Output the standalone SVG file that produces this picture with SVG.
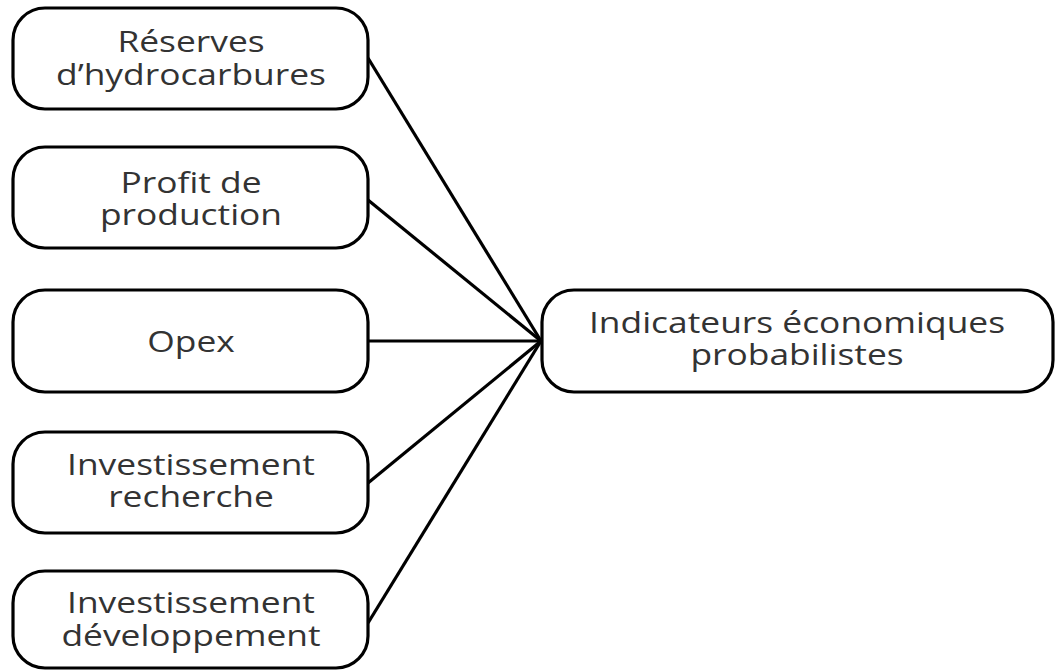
<svg xmlns="http://www.w3.org/2000/svg" width="1057" height="671" viewBox="0 0 1057 671">
<style>
.box{fill:#fff;stroke:#000;stroke-width:3.2}
.t{font-family:"Open Sans","Noto Sans",sans-serif;font-size:29px;fill:#333;text-anchor:middle}
.c{stroke:#000;stroke-width:3.2;fill:none}
</style>
<rect width="1057" height="671" fill="#fff"/>
<g id="connectors">
<line class="c" x1="368" y1="58" x2="541" y2="341"/>
<line class="c" x1="368" y1="200" x2="541" y2="341"/>
<line class="c" x1="368" y1="341" x2="541" y2="341"/>
<line class="c" x1="368" y1="483" x2="541" y2="341"/>
<line class="c" x1="368" y1="623" x2="541" y2="341"/>
</g>
<g id="n1">
<rect class="box" x="13" y="8" width="355" height="101" rx="32"/>
<g transform="translate(191 0) scale(1.22 1)"><text class="t" x="0" y="52">Réserves</text><text class="t" x="0" y="85">d’hydrocarbures</text></g>
</g>
<g id="n2">
<rect class="box" x="13" y="147" width="355" height="101" rx="32"/>
<g transform="translate(191 0) scale(1.22 1)"><text class="t" x="0" y="193">Profit de</text><text class="t" x="0" y="225">production</text></g>
</g>
<g id="n3">
<rect class="box" x="13" y="290" width="355" height="102" rx="32"/>
<g transform="translate(191 0) scale(1.22 1)"><text class="t" x="0" y="352">Opex</text></g>
</g>
<g id="n4">
<rect class="box" x="13" y="432" width="355" height="101" rx="32"/>
<g transform="translate(191 0) scale(1.22 1)"><text class="t" x="0" y="475">Investissement</text><text class="t" x="0" y="507">recherche</text></g>
</g>
<g id="n5">
<rect class="box" x="13" y="571" width="355" height="97" rx="32"/>
<g transform="translate(191 0) scale(1.22 1)"><text class="t" x="0" y="613">Investissement</text><text class="t" x="0" y="646">développement</text></g>
</g>
<g id="n6">
<rect class="box" x="542" y="290" width="511" height="102" rx="32"/>
<g transform="translate(797 0) scale(1.22 1)"><text class="t" x="0" y="333">Indicateurs économiques</text><text class="t" x="0" y="365">probabilistes</text></g>
</g>
</svg>
